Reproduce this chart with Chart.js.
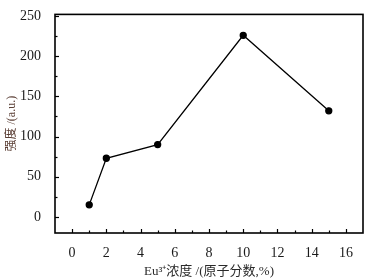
<!DOCTYPE html>
<html>
<head>
<meta charset="utf-8">
<script src="https://cdn.jsdelivr.net/npm/chart.js@4/dist/chart.umd.min.js"></script>
<style>
  html, body { margin: 0; padding: 0; background: #fff; }
  #wrap { width: 369px; height: 279px; }
</style>
</head>
<body>
<div id="wrap"><canvas id="myChart" width="369" height="279"></canvas></div>
<script>
// Eu3+ concentration (at.%) vs intensity
const concentration = [1, 2, 5, 10, 15];
const intensity = [15, 73, 90, 226, 132];
const xTicks = [0, 2, 4, 6, 8, 10, 12, 14, 16];
const yTicks = [0, 50, 100, 150, 200, 250];

const serif = "'Liberation Serif', 'Times New Roman', serif";
const cjk = "'Liberation Serif', 'Noto Sans CJK SC', serif";

// ticks pointing into the plot, plus the frame
const innerTicks = {
    id: "innerTicks",
    afterDraw: function (chart) {
        const ctx = chart.ctx;
        const area = chart.chartArea;
        const xs = chart.scales.x;
        const ys = chart.scales.y;
        ctx.save();
        ctx.strokeStyle = "#000";
        ctx.lineWidth = 1.2;
        for (let v = 0; v <= 16; v++) {
            const px = Math.round(xs.getPixelForValue(v)) + 0.5;
            const len = v % 2 === 0 ? 4 : 2.5;
            ctx.beginPath();
            ctx.moveTo(px, area.bottom);
            ctx.lineTo(px, area.bottom - len);
            ctx.stroke();
        }
        for (let v = 0; v <= 250; v += 25) {
            const py = Math.round(ys.getPixelForValue(v)) + 0.5;
            const len = v % 50 === 0 ? 4 : 2.5;
            ctx.beginPath();
            ctx.moveTo(area.left, py);
            ctx.lineTo(area.left + len, py);
            ctx.stroke();
        }
        ctx.lineWidth = 1.6;
        ctx.strokeRect(area.left, area.top, area.right - area.left, area.bottom - area.top);
        ctx.restore();
    },
};

new Chart(document.getElementById("myChart").getContext("2d"), {
    type: "line",
    data: {
        datasets: [
            {
                data: concentration.map((c, i) => ({ x: c, y: intensity[i] })),
                borderColor: "#000",
                backgroundColor: "#000",
                borderWidth: 1.3,
                pointRadius: 3,
                pointBackgroundColor: "#000",
                tension: 0,
            },
        ],
    },
    options: {
        responsive: false,
        animation: false,
        layout: { padding: { top: 10, right: 6, left: 0, bottom: 0 } },
        plugins: { legend: { display: false }, tooltip: { enabled: false } },
        scales: {
            x: {
                type: "linear",
                min: -1,
                max: 17,
                afterBuildTicks: function (scale) {
                    scale.ticks = xTicks.map((v) => ({ value: v }));
                },
                afterFit: function (scale) {
                    scale.height = 46;
                },
                grid: { display: false },
                border: { display: false },
                ticks: {
                    color: "#1a1a1a",
                    font: { family: serif, size: 14 },
                    padding: 4,
                    maxRotation: 0,
                },
                title: {
                    display: true,
                    text: "Eu³⁺浓度 /(原子分数,%)",
                    color: "#2a2a2a",
                    font: { family: cjk, size: 13 },
                    padding: { top: 2, bottom: 0 },
                },
            },
            y: {
                type: "linear",
                min: -20,
                max: 252,
                afterBuildTicks: function (scale) {
                    scale.ticks = yTicks.map((v) => ({ value: v }));
                },
                afterFit: function (scale) {
                    scale.width = 55;
                },
                grid: { display: false },
                border: { display: false },
                ticks: {
                    color: "#1a1a1a",
                    font: { family: serif, size: 14 },
                    padding: 6,
                },
                title: {
                    display: true,
                    text: "强度 /(a.u.)",
                    color: "#5a3e34",
                    font: { family: cjk, size: 12 },
                    padding: { top: 5, bottom: 4 },
                },
            },
        },
    },
    plugins: [innerTicks],
});
</script>
</body>
</html>
